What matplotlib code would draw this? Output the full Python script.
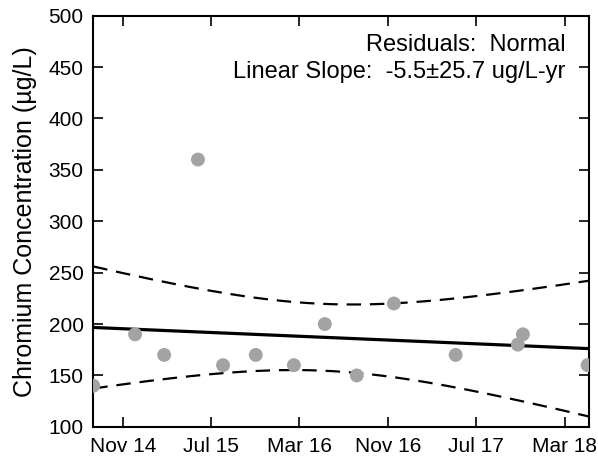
import matplotlib.pyplot as plt
import matplotlib.dates as mdates
import numpy as np
import pandas as pd

plt.rcParams['font.family'] = ['Liberation Sans', 'DejaVu Sans']

# sample dates and chromium results (ug/L)
dates = pd.to_datetime([
    "2014-08-12", "2014-12-05", "2015-02-23", "2015-05-27", "2015-08-04",
    "2015-11-02", "2016-02-15", "2016-05-10", "2016-08-06", "2016-11-16",
    "2017-05-05", "2017-10-23", "2017-11-06", "2018-05-03",
])
conc = [140, 190, 170, 360, 160, 170, 160, 200, 150, 220, 170, 180, 190, 160]

tick_dates = pd.to_datetime(["2014-11-01", "2015-07-01", "2016-03-01",
                             "2016-11-01", "2017-07-01", "2018-03-01"])
tick_labels = ["Nov 14", "Jul 15", "Mar 16", "Nov 16", "Jul 17", "Mar 18"]

x_lo = pd.Timestamp("2014-08-12")
x_hi = pd.Timestamp("2018-05-07")

# linear trend with 95% confidence band
xd = mdates.date2num(dates)
y = np.array(conc, dtype=float)
b, a = np.polyfit(xd, y, 1)
n = len(y)
resid = y - (a + b * xd)
s = np.sqrt(np.sum(resid ** 2) / (n - 2))
t = 2.179  # t(0.975, 12)
xx = np.linspace(mdates.date2num(x_lo), mdates.date2num(x_hi), 200)
yy = a + b * xx
half = t * s * np.sqrt(1 / n + (xx - xd.mean()) ** 2 / np.sum((xd - xd.mean()) ** 2))

fig, ax = plt.subplots(figsize=(5.98, 4.59), dpi=100)
fig.subplots_adjust(left=0.156, right=0.985, top=0.966, bottom=0.07)

ax.plot(xx, yy, color="black", lw=2.3, zorder=2)
ax.plot(xx, yy + half, color="black", lw=1.6, dashes=(6.5, 4), zorder=2)
ax.plot(xx, yy - half, color="black", lw=1.6, dashes=(6.5, 4), zorder=2)
ax.scatter(xd, y, s=100, color="#a3a3a3", edgecolors="none", zorder=3)

ax.set_xlim(mdates.date2num(x_lo), mdates.date2num(x_hi))
ax.set_ylim(100, 500)
ax.set_yticks(range(100, 501, 50))
ax.set_xticks(mdates.date2num(tick_dates))
ax.set_xticklabels(tick_labels)
ax.set_ylabel("Chromium Concentration (µg/L)", fontsize=18, labelpad=8)

ax.tick_params(direction="in", length=7, width=1.2, top=True, right=True,
               labelsize=15, pad=7)
for sp in ax.spines.values():
    sp.set_linewidth(1.5)

ax.text(0.953, 0.929, "Residuals:  Normal", transform=ax.transAxes,
        ha="right", va="center", fontsize=17)
ax.text(0.953, 0.863, "Linear Slope:  -5.5±25.7 ug/L-yr", transform=ax.transAxes,
        ha="right", va="center", fontsize=17)

fig.savefig("out.png", dpi=100)
